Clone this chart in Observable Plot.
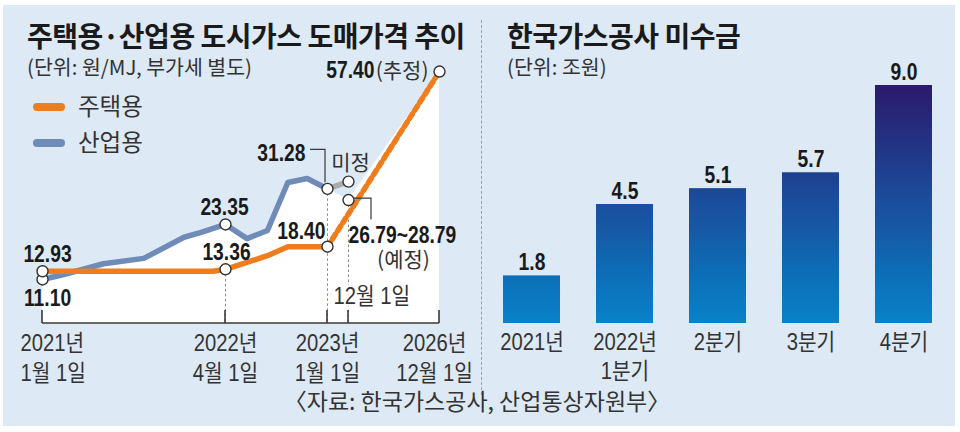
<!DOCTYPE html>
<html><head><meta charset="utf-8">
<script src="https://cdn.jsdelivr.net/npm/d3@7"></script>
<script src="https://cdn.jsdelivr.net/npm/@observablehq/plot@0.6"></script>
<style>
body{margin:0;width:960px;height:432px;background:#fff;position:relative;overflow:hidden;font-family:"Noto Sans CJK KR",sans-serif;color:#222}
#panel{position:absolute;left:3px;top:5px;width:952px;height:421px;background:#dde9f5}
.abs{position:absolute;white-space:nowrap;line-height:1}
.title{font-size:28px;font-weight:700;color:#1a1a1a;letter-spacing:-0.5px}
.sub{font-size:20.5px;color:#333}
.leg{font-size:23.5px;color:#333}
.legbar{position:absolute;width:32px;height:8px;border-radius:4px}
#sep{position:absolute;left:481px;top:20px;height:375px;border-left:1px dashed #9aa3ad}
#cap{position:absolute;left:0;width:954px;top:389px;text-align:center;font-size:23px;color:#333;line-height:1}
.chart{position:absolute;top:0}
</style></head>
<body>
<div id="panel"></div>
<div id="sep"></div>
<div class="abs title" style="left:27px;top:20.5px">주택용·산업용 도시가스 도매가격 추이</div>
<div class="abs sub" style="left:27px;top:56px">(단위: 원/MJ, 부가세 별도)</div>
<div class="abs title" style="left:507px;top:20.5px">한국가스공사 미수금</div>
<div class="abs sub" style="left:507px;top:56px">(단위: 조원)</div>
<div class="legbar" style="left:33px;top:103px;background:#ee7d1e"></div>
<div class="abs leg" style="left:78px;top:94px">주택용</div>
<div class="legbar" style="left:33px;top:139px;background:#6f8bb7"></div>
<div class="abs leg" style="left:78px;top:130px">산업용</div>
<div id="left" class="chart" style="left:0"></div>
<div id="right" class="chart" style="left:480px"></div>
<div id="cap">〈자료: 한국가스공사, 산업통상자원부〉</div>
<script>
// ---------- data: left chart (months since 2021-01-01) ----------
const resMonths = [0, 14, 15, 18.7, 20.5, 24];
const resValues = [12.93, 12.93, 13.36, 16.4, 18.40, 18.40];
const indMonths = [0, 1.75, 5, 8.3, 11.6, 13, 15, 16.9, 18.7, 20.5, 22.2, 24];
const indValues = [11.10, 12.2, 14.6, 15.8, 20.5, 21.6, 23.35, 20.2, 22.0, 32.7, 33.6, 31.28];
const projMonths = [24, 71];
const projValues = [18.40, 57.40];
const pendingMonths = [24, 35];
const pendingValues = [31.28, 32.9];
const estMonth = 35;
const estRange = [26.79, 28.79];
const xTickMonths = [0, 15, 24, 35, 71];
const xTickLabels = ["2021년\n1월 1일", "2022년\n4월 1일", "2023년\n1월 1일", "12월 1일", "2026년\n12월 1일"];

// ---------- data: right chart ----------
const debtCategories = ["2021년", "2022년\n1분기", "2분기", "3분기", "4분기"];
const debtValues = [1.8, 4.5, 5.1, 5.7, 9.0];

const ORANGE = "#ee7d1e", BLUE = "#6f8bb7";
const NUM_FONT = '"Liberation Sans","Noto Sans CJK KR",sans-serif';
const KR_FONT = '"Noto Sans CJK KR",sans-serif';
const f2 = d3.format(".2f");

const zip = (ms, vs) => ms.map((m, i) => ({m, v: vs[i]}));
const res = zip(resMonths, resValues);
const ind = zip(indMonths, indValues);
const proj = zip(projMonths, projValues);
const pending = zip(pendingMonths, pendingValues);
const est = {m: estMonth, v: estRange[1]};
const envelope = [...ind, est, proj[1]];
const ticks = xTickMonths.map((m, i) => ({m, label: xTickLabels[i]}));

const axisMark = (index, scales, values, dims) => {
  const g = d3.create("svg:g").attr("fill", "none").attr("stroke", "#3a3a3a");
  const X = scales.x, Y = scales.y;
  const yb = dims.height - dims.marginBottom;
  g.append("line").attr("x1", X(xTickMonths[0])).attr("x2", X(xTickMonths[xTickMonths.length - 1]))
    .attr("y1", yb).attr("y2", yb).attr("stroke-width", 1.6);
  for (const m of xTickMonths) {
    g.append("line").attr("x1", X(m)).attr("x2", X(m)).attr("y1", yb - 13).attr("y2", yb).attr("stroke-width", 1.6);
  }
  const ax = X(pending[0].m), ay = Y(pending[0].v);
  g.append("path").attr("d", `M${ax - 17},${ay - 39}H${ax - 2}V${ay - 6}`).attr("stroke-width", 1.2);
  const bx = X(est.m), by = Y(est.v);
  g.append("path").attr("d", `M${bx + 5},${by - 1.5}H${bx + 23}V${by + 20}`).attr("stroke-width", 1.2);
  return g.node();
};

const numText = (data, opts) => Plot.text(data, {x: "m", y: "v", fontFamily: NUM_FONT, fontWeight: "bold", fontSize: 23.5, fill: "#1a1a1a", lineAnchor: "bottom", ...opts});
const krText = (data, opts) => Plot.text(data, {x: "m", y: "v", fontFamily: KR_FONT, fontSize: 21, fill: "#333", lineAnchor: "bottom", ...opts});
const tickText = (data, opts) => Plot.text(data, {x: "m", text: "label", frameAnchor: "bottom", lineAnchor: "top", dy: 6.7, lineHeight: 1.304, fontSize: 23, fontFamily: NUM_FONT, fill: "#333", ...opts});

const left = Plot.plot({
  width: 480, height: 432,
  marginLeft: 42, marginRight: 41, marginTop: 59, marginBottom: 109,
  style: "background: transparent; overflow: visible;",
  x: {type: "linear", domain: xTickMonths, range: [42, 225, 327, 348, 439], axis: null},
  y: {domain: [0, 60], range: [328.8, 59.4], axis: null},
  marks: [
    Plot.areaY(envelope, {x: "m", y1: 0, y2: "v", fill: "white", clip: true}),
    Plot.ruleX([{m: 15, v: 13.36}, pending[0], est], {x: "m", y1: "v", y2: 0, stroke: "#8a8a8a", strokeWidth: 1, strokeDasharray: "2.5,2.5", clip: true}),
    Plot.line(ind, {x: "m", y: "v", stroke: BLUE, strokeWidth: 5.5, strokeLinejoin: "round"}),
    Plot.line(pending, {x: "m", y: "v", stroke: "#a9abae", strokeWidth: 5.5}),
    Plot.line(proj, {x: "m", y: "v", stroke: ORANGE, strokeWidth: 5.5, strokeDasharray: "5.5,4"}),
    Plot.line(res, {x: "m", y: "v", stroke: ORANGE, strokeWidth: 5.5, strokeLinejoin: "round"}),
    axisMark,
    Plot.dot([ind[0], res[0], ind[6], res[2], res[res.length - 1], pending[0], pending[1], est, proj[1]],
      {x: "m", y: "v", r: 5.5, fill: "white", stroke: "#333", strokeWidth: 1.4}),
    numText([res[0]], {text: d => f2(d.v), dx: 5, dy: -9}),
    numText([ind[0]], {text: d => f2(d.v), dx: 5, dy: 27}),
    numText([ind[6]], {text: d => f2(d.v), dx: -1, dy: -9}),
    numText([res[2]], {text: d => f2(d.v), dx: 1, dy: -9}),
    numText([res[res.length - 1]], {text: d => f2(d.v), textAnchor: "end", dx: -2, dy: -8}),
    numText([pending[0]], {text: d => f2(d.v), textAnchor: "end", dx: -22, dy: -28}),
    krText([pending[1]], {text: () => "미정", dx: 2, dy: -12}),
    numText([est], {text: () => `${f2(estRange[0])}~${f2(estRange[1])}`, textAnchor: "start", dx: 0, dy: 43}),
    krText([est], {text: () => "(예정)", dx: 55, dy: 67}),
    numText([proj[1]], {text: d => f2(d.v), textAnchor: "end", dx: -65, dy: 6}),
    krText([proj[1]], {text: () => "(추정)", textAnchor: "end", dx: -11, dy: 6}),
    tickText(ticks.slice(0, 1), {textAnchor: "start", dx: -22}),
    tickText([ticks[1], ticks[2]], {}),
    tickText([ticks[4]], {dx: -5}),
    tickText([ticks[3]], {lineAnchor: "bottom", textAnchor: "start", dx: -15, dy: -20, stroke: "white", strokeWidth: 5})
  ]
});
document.getElementById("left").append(left);

// ---------- right chart ----------
const debt = debtCategories.map((c, i) => ({c, v: debtValues[i]}));
const right = Plot.plot({
  width: 480, height: 432,
  marginLeft: 0, marginRight: 0, marginTop: 85, marginBottom: 109,
  style: "background: transparent; overflow: visible;",
  x: {type: "band", domain: debtCategories, range: [13.7, 461.3], paddingInner: 0.387, paddingOuter: 0.1, round: false, axis: null},
  y: {domain: [0, 9], axis: null},
  marks: [
    Plot.barY(debt, {x: "c", y: "v", fill: "url(#debtGrad)"}),
    Plot.text(debt, {x: "c", y: "v", text: d => d.v.toFixed(1), lineAnchor: "bottom", dy: -6, fontFamily: NUM_FONT, fontWeight: "bold", fontSize: 23.5, fill: "#1a1a1a"}),
    Plot.text(debt, {x: "c", text: "c", frameAnchor: "bottom", lineAnchor: "top", dy: 6.4, lineHeight: 1.26, fontSize: 23, fontFamily: NUM_FONT, fill: "#333"})
  ]
});
const ys = right.scale("y");
const defs = d3.select(right).insert("defs", ":first-child");
const grad = defs.append("linearGradient").attr("id", "debtGrad").attr("gradientUnits", "userSpaceOnUse")
  .attr("x1", 0).attr("x2", 0).attr("y1", ys.apply(d3.max(debtValues))).attr("y2", ys.apply(0));
[[0, "#2b1a6e"], [0.315, "#203a89"], [0.5, "#1a4f9f"], [0.6, "#1658a4"], [0.8, "#0c6fb8"], [1, "#0882c7"]]
  .forEach(([o, c]) => grad.append("stop").attr("offset", o).attr("stop-color", c));
document.getElementById("right").append(right);

// condense numeric texts (reference uses a condensed face for figures)
function condense(svg) {
  svg.querySelectorAll("text").forEach(t => {
    if (!/\d/.test(t.textContent)) return;
    const g = t.closest("g[font-weight]");
    const factor = g && g.getAttribute("font-weight") === "bold" ? 0.82 : 0.88;
    const parts = t.querySelectorAll("tspan");
    (parts.length ? Array.from(parts) : [t]).forEach(el => {
      const L = el.getComputedTextLength();
      el.setAttribute("textLength", (L * factor).toFixed(1));
      el.setAttribute("lengthAdjust", "spacingAndGlyphs");
    });
  });
}
condense(left);
condense(right);
</script>
</body></html>
